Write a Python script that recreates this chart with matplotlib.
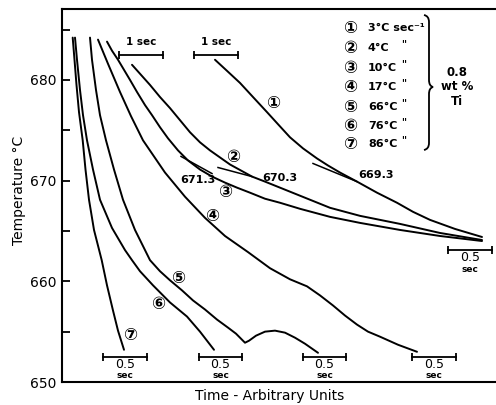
import numpy as np
import matplotlib
matplotlib.use('Agg')
import matplotlib.pyplot as plt
from matplotlib.path import Path
from matplotlib.patches import PathPatch
from matplotlib.transforms import Affine2D

plt.rcParams['font.family'] = ['DejaVu Sans', 'Noto Sans CJK SC']

# cooling curves, time in arbitrary units, temperature in deg C
t1 = [153, 165, 178, 191, 205, 216, 228, 241, 255, 266, 278, 295, 315, 335, 351, 368, 393, 420]
T1 = [682.0, 680.9, 679.7, 678.3, 676.8, 675.6, 674.3, 673.2, 672.2, 671.5, 670.8, 669.9,
      668.8, 667.8, 666.9, 666.1, 665.2, 664.4]

t2 = [70, 79, 88, 98, 108, 118, 128, 138, 148, 158, 168, 179, 190, 203, 218, 238, 268, 298, 338, 378, 420]
T2 = [681.5, 680.5, 679.5, 678.3, 677.2, 676.0, 674.8, 673.8, 673.0, 672.3, 671.6, 671.0,
      670.4, 669.9, 669.3, 668.5, 667.3, 666.5, 665.7, 664.8, 664.1]

t3 = [45, 50, 56, 62, 68, 75, 83, 90, 98, 106, 116, 126, 138, 150, 163, 175, 188, 203,
      218, 238, 268, 298, 338, 378, 420]
T3 = [683.8, 682.9, 682.0, 681.0, 680.0, 678.8, 677.5, 676.5, 675.3, 674.2, 673.0, 672.0,
      671.1, 670.4, 669.8, 669.3, 668.8, 668.2, 667.8, 667.2, 666.4, 665.8, 665.1, 664.5, 664.0]

t4 = [36, 41, 46, 52, 58, 69, 81, 103, 123, 143, 163, 186, 208, 228, 245, 258, 271, 283,
      295, 306, 318, 336, 355]
T4 = [684.0, 682.8, 681.6, 680.2, 678.8, 676.4, 674.0, 670.8, 668.4, 666.3, 664.5, 662.9,
      661.3, 660.2, 659.5, 658.6, 657.6, 656.6, 655.7, 655.0, 654.5, 653.7, 653.0]

t5 = [28, 30, 34, 38, 44, 52, 61, 73, 88, 98, 108, 120, 131, 143, 155, 166, 174, 179, 183,
      187, 194, 203, 213, 223, 233, 243, 256]
T5 = [684.2, 682.0, 679.0, 676.5, 674.0, 671.1, 668.1, 665.1, 662.1, 661.0, 660.1, 659.1,
      658.1, 657.2, 656.2, 655.4, 654.8, 654.3, 653.9, 654.1, 654.6, 655.0, 655.1, 654.9,
      654.4, 653.8, 652.9]

t6 = [13, 15, 18, 21, 25, 31, 38, 50, 63, 70, 78, 91, 108, 125, 138, 145, 152]
T6 = [684.2, 682.0, 679.0, 676.5, 674.0, 671.1, 668.1, 665.3, 663.1, 662.1, 661.0, 659.6,
      657.9, 656.5, 655.0, 654.1, 653.2]

t7 = [10.7, 12.5, 14.5, 17, 20.7, 23.5, 27, 32, 39.7, 45, 51, 56, 62]
T7 = [684.2, 682.0, 679.5, 676.8, 674.0, 671.1, 668.1, 665.1, 662.1, 659.6, 657.1, 655.1, 653.2]

# tangent lines and the arrest temperatures written next to them
tan_t = [[119, 150], [156, 190], [251, 295]]
tan_T = [[672.4, 670.7], [671.3, 670.4], [671.7, 669.9]]
tan_labels = ['671.3', '670.3', '669.3']

rates = ['3°C sec⁻¹', '4°C', '10°C', '17°C', '66°C', '76°C', '86°C']
circled = ['①', '②', '③', '④', '⑤', '⑥', '⑦']

W, H = 496, 405
fig = plt.figure(figsize=(W / 100, H / 100), dpi=100)
ax = fig.add_axes([62 / W, (H - 382) / H, (W - 62) / W, (382 - 9) / H])

#pixel helper for the annotations
pix = Affine2D().scale(1 / W, -1 / H).translate(0, 1) + fig.transFigure


def ptext(x, y, s, **kw):
    kw.setdefault('ha', 'center')
    kw.setdefault('va', 'center')
    fig.text(x / W, 1 - y / H, s, **kw)


for t, T in [(t1, T1), (t2, T2), (t3, T3), (t4, T4), (t5, T5), (t6, T6), (t7, T7)]:
    ax.plot(t, T, color='black', lw=1.4, solid_capstyle='round', solid_joinstyle='round')

for t, T in zip(tan_t, tan_T):
    ax.plot(t, T, color='black', lw=1.1)

ax.set_xlim(0, W - 62)
ax.set_ylim(650, 650 + (382 - 9) / 10.07)
ax.set_yticks([650, 660, 670, 680])
ax.set_yticks([655, 665, 675, 685], minor=True)
ax.tick_params(axis='y', which='both', direction='in', length=6, width=1.3, labelsize=10, pad=4)
ax.set_xticks([])
ax.spines['right'].set_visible(False)
for s in ['left', 'bottom', 'top']:
    ax.spines[s].set_linewidth(1.5)

# scale bars
bars = [(57, 101, 682.5), (132, 176, 682.5),
        (41, 85, 652.5), (137, 180, 652.5), (241, 284, 652.5), (350, 394, 652.5),
        (386, 430, 663.1)]
for i, (a, b, y) in enumerate(bars):
    ax.plot([a, b], [y, y], color='black', lw=1.3, marker='|', markersize=6, mew=1.3)
    c = (a + b) / 2
    if i < 2:
        ax.text(c, y + 1.25, '1 sec', ha='center', va='center', fontsize=7.5, weight='bold')
    else:
        ax.text(c, y - 0.75, '0.5', ha='center', va='center', fontsize=9)
        ax.text(c, y - 1.9, 'sec', ha='center', va='center', fontsize=6.5, weight='bold')

# curve numbers
for (x, y), s in zip([(273, 103), (233, 157), (225, 192), (212, 216), (178, 278), (158, 304), (130, 335)],
                     circled):
    ptext(x, y, s, fontsize=12, weight='bold')

# tangent temperatures
for (x, y), s in zip([(198, 180), (280, 178), (376, 175)], tan_labels):
    ptext(x, y, s, fontsize=8, weight='bold')

# legend block
rows = [28, 48, 68, 87, 107, 126, 144]
for y, c, r in zip(rows, circled, rates):
    ptext(350, y, c, fontsize=12, weight='bold')
    ptext(368, y, r, ha='left', fontsize=8, weight='bold')
    if r != rates[0]:
        ptext(404, y - 4, '"', fontsize=7, weight='bold')

# brace
verts = [(424, 15), (429, 16), (429, 22), (429, 30),
         (429, 80), (429, 86), (433, 87),
         (429, 88), (429, 94), (429, 104),
         (429, 143), (429, 149), (424, 150)]
codes = [Path.MOVETO, Path.CURVE3, Path.CURVE3, Path.LINETO,
         Path.LINETO, Path.CURVE3, Path.CURVE3,
         Path.CURVE3, Path.CURVE3, Path.LINETO,
         Path.LINETO, Path.CURVE3, Path.CURVE3]
fig.patches.append(PathPatch(Path(verts, codes), transform=pix, fill=False, lw=1.3, color='black'))
ptext(457, 72, '0.8', fontsize=8.5, weight='bold')
ptext(457, 87, 'wt %', fontsize=8.5, weight='bold')
ptext(457, 102, 'Ti', fontsize=8.5, weight='bold')

ptext(270, 396, 'Time - Arbitrary Units', fontsize=10)
ptext(19, 190, 'Temperature °C', fontsize=10, rotation=90)

fig.savefig('out.png', dpi=100)
